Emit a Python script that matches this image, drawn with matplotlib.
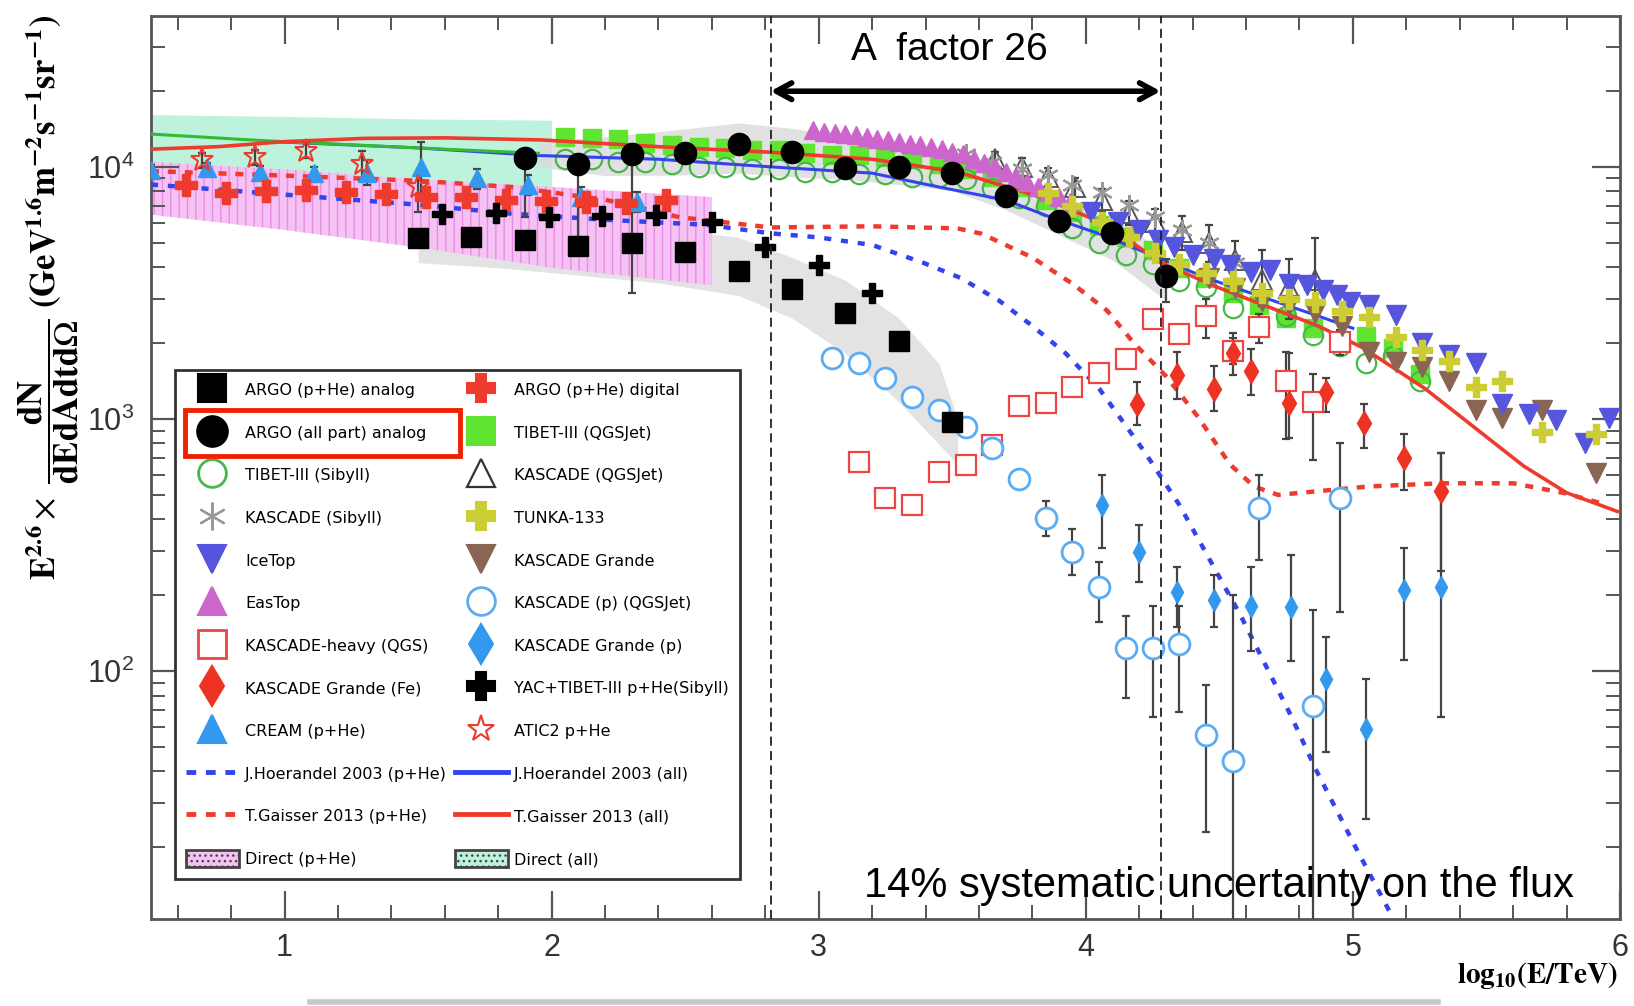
import matplotlib
matplotlib.use('Agg')
import matplotlib.pyplot as plt
from matplotlib.lines import Line2D
from matplotlib.patches import Patch, Rectangle
from matplotlib.ticker import MultipleLocator, LogLocator

plt.rcParams['font.family'] = ['Liberation Sans', 'DejaVu Sans']
plt.rcParams['mathtext.fontset'] = 'custom'
plt.rcParams['mathtext.rm'] = 'Liberation Sans'
plt.rcParams['mathtext.it'] = 'Liberation Sans:italic'
plt.rcParams['mathtext.bf'] = 'Liberation Sans:bold'
plt.rcParams['hatch.linewidth'] = 1.0

# ---- data (x = log10(E/TeV), y = E^2.6 dN/dE) ----
argo_phe_x = [1.50, 1.70, 1.90, 2.10, 2.30, 2.50, 2.70, 2.90, 3.10, 3.30, 3.50]
argo_phe_y = [5240, 5280, 5140, 4850, 4990, 4580, 3860, 3290, 2640, 2040, 970]

argo_all_x = [1.90, 2.10, 2.30, 2.50, 2.70, 2.90, 3.10, 3.30, 3.50, 3.70, 3.90, 4.10, 4.30]
argo_all_y = [10800, 10300, 11200, 11400, 12300, 11500, 9900, 10000, 9440, 7650, 6100, 5450, 3680]
argo_all_lo = [6310, 5250, 3160, 10900, 11800, 11000, 9500, 9600, 9050, 7300, 5800, 5150, 2900]
argo_all_hi = [11500, 10800, 11800, 11900, 12800, 12000, 10300, 10400, 9850, 8000, 6400, 5750, 4300]

argo_dig_x = [0.63, 0.78, 0.93, 1.08, 1.23, 1.38, 1.53, 1.68, 1.83, 1.98, 2.13, 2.28, 2.43]
argo_dig_y = [8470, 7850, 8020, 8130, 7940, 7800, 7600, 7570, 7380, 7330, 7260, 7190, 7380]

yac_x = [1.59, 1.79, 1.99, 2.19, 2.39, 2.60, 2.80, 3.00, 3.20]
yac_y = [6530, 6580, 6310, 6380, 6440, 6050, 4820, 4070, 3150]

cream_x = [0.50, 0.71, 0.91, 1.11, 1.31, 1.51, 1.72, 1.91, 2.11, 2.32]
cream_y = [9700, 9860, 9550, 9420, 9420, 9950, 9000, 8470, 7600, 7260]
cream_lo = [9200, 9350, 9050, 8900, 8500, 7900, 8200, 7700, 6900, 6600]
cream_hi = [10200, 10400, 10050, 9950, 10600, 12600, 9800, 9250, 8300, 7950]

atic_x = [0.69, 0.89, 1.08, 1.29, 1.50]
atic_y = [10600, 10900, 11600, 10300, 8340]
atic_lo = [9900, 10200, 10800, 8900, 6600]
atic_hi = [11400, 11700, 12500, 11600, 9300]

tibet_q_x = [2.05, 2.15, 2.25, 2.35, 2.45, 2.55, 2.65, 2.75, 2.85, 2.95, 3.05,
             3.15, 3.25, 3.35, 3.45, 3.55, 3.65, 3.75, 3.85, 3.95, 4.05, 4.15,
             4.25, 4.35, 4.45, 4.55, 4.65, 4.75, 4.85, 4.95, 5.05, 5.15, 5.25]
tibet_q_y = [13120, 13000, 12880, 12450, 12190, 11990, 11860, 11640, 11640, 11350, 11120,
             11120, 10910, 10720, 10230, 9770, 9120, 8320, 7410, 6610, 5890, 5250,
             4680, 3980, 3630, 3160, 2820, 2510, 2290, 2040, 2140, 1910, 1510]

tibet_s_x = tibet_q_x
tibet_s_y = [10720, 10720, 10470, 10470, 10230, 10000, 10000, 9770, 9770, 9550, 9550,
             9330, 9330, 9120, 9120, 8910, 8260, 7520, 6970, 5700, 5010, 4470,
             4130, 3510, 3350, 2750, 2340, 2570, 2160, 1950, 1660, 1780, 1410]

eastop_x = [2.98, 3.02, 3.06, 3.10, 3.14, 3.18, 3.22, 3.26, 3.30, 3.34, 3.38, 3.42, 3.46,
            3.50, 3.54, 3.58, 3.62, 3.66, 3.70, 3.74, 3.78, 3.82, 3.86, 3.90, 3.94]
eastop_y = [13960, 13800, 13650, 13490, 13340, 13180, 12880, 12740, 12590, 12300, 12160, 12020, 11750,
            11480, 11220, 10720, 10350, 10000, 9550, 9120, 8710, 8320, 7940, 7590, 7240]

kas_sib_x = [3.55, 3.65, 3.76, 3.86, 3.95, 4.06, 4.16, 4.26, 4.36, 4.46, 4.56]
kas_sib_y = [11220, 10470, 9770, 9270, 8510, 7940, 7080, 6310, 5600, 5010, 4170]

kas_qgs_x = [3.66, 3.76, 3.86, 3.96, 4.06, 4.16, 4.26, 4.36, 4.46, 4.56, 4.66, 4.76, 4.86]
kas_qgs_y = [10720, 10000, 9120, 8320, 7410, 6580, 6030, 5500, 5010, 4270, 3550, 3310, 3550]
kas_qgs_lo = [9900, 9200, 8400, 7600, 6700, 5900, 5300, 4700, 4200, 3500, 2800, 2500, 2700]
kas_qgs_hi = [11500, 10800, 9900, 9000, 8200, 7300, 6800, 6400, 5900, 5100, 4700, 4300, 5200]

tunka_x = [3.86, 3.95, 4.06, 4.16, 4.26, 4.35, 4.45, 4.55, 4.66, 4.76,
           4.86, 4.96, 5.06, 5.16, 5.26, 5.36, 5.46, 5.56, 5.71, 5.91]
tunka_y = [7890, 6970, 6030, 5250, 4570, 4130, 3780, 3510, 3160, 2990,
           2920, 2670, 2540, 2120, 1870, 1700, 1340, 1420, 890, 870]

icetop_x = [4.02, 4.12, 4.20, 4.27, 4.33, 4.40, 4.48, 4.54, 4.62, 4.69, 4.76, 4.83, 4.89,
            4.94, 4.99, 5.06, 5.16, 5.26, 5.36, 5.46, 5.56, 5.66, 5.76, 5.87, 5.96]
icetop_y = [6610, 6030, 5620, 5130, 4790, 4470, 4330, 4070, 3830, 3890, 3440, 3390, 3240,
            3090, 2900, 2820, 2590, 2000, 1790, 1660, 1150, 1050, 990, 800, 1010]

kg_x = [4.46, 4.56, 4.66, 4.76, 4.86, 4.96, 5.06, 5.16, 5.26, 5.36, 5.46, 5.56, 5.71, 5.91]
kg_y = [3630, 3310, 2950, 2820, 2630, 2330, 1850, 1690, 1610, 1410, 1090, 1010, 1090, 610]

kh_x = [3.15, 3.25, 3.35, 3.45, 3.55, 3.65, 3.75, 3.85, 3.95, 4.05,
        4.15, 4.25, 4.35, 4.45, 4.55, 4.65, 4.75, 4.85, 4.95]
kh_y = [678, 485, 458, 615, 658, 789, 1122, 1153, 1343, 1521,
        1722, 2495, 2183, 2565, 1858, 2312, 1409, 1164, 2023]
kh_lo = [640, 460, 435, 585, 625, 750, 1065, 1095, 1275, 1445,
         1635, 2370, 2070, 2100, 1650, 2000, 830, 690, 1800]
kh_hi = [715, 510, 480, 645, 690, 830, 1180, 1210, 1410, 1600,
         1810, 2620, 2290, 3000, 2100, 2600, 1840, 1510, 2250]

kgfe_x = [4.19, 4.34, 4.48, 4.55, 4.62, 4.76, 4.90, 5.04, 5.19, 5.33]
kgfe_y = [1150, 1490, 1320, 1820, 1550, 1160, 1280, 960, 700, 520]
kgfe_lo = [950, 1200, 1080, 1500, 1250, 840, 1070, 770, 525, 250]
kgfe_hi = [1400, 1850, 1620, 2200, 1900, 1820, 1460, 1150, 870, 730]

kp_x = [3.05, 3.15, 3.25, 3.35, 3.45, 3.55, 3.65, 3.75, 3.85, 3.95,
        4.05, 4.15, 4.25, 4.35, 4.45, 4.55, 4.65, 4.85, 4.95]
kp_y = [1750, 1670, 1450, 1220, 1090, 930, 770, 580, 405, 296,
        216, 123, 123, 128, 56, 44, 442, 73, 485]
kp_lo = [1650, 1570, 1360, 1140, 1020, 870, 720, 540, 345, 240,
         156, 78, 66, 69, 23, 10, 277, 10, 172]
kp_hi = [1850, 1770, 1540, 1300, 1160, 990, 820, 620, 475, 365,
         272, 166, 182, 182, 88, 200, 598, 175, 803]

kgp_x = [4.06, 4.20, 4.34, 4.48, 4.62, 4.77, 4.90, 5.05, 5.19, 5.33]
kgp_y = [454, 296, 206, 191, 182, 180, 93, 59, 210, 216]
kgp_lo = [308, 226, 150, 150, 120, 110, 48, 26, 111, 66]
kgp_hi = [600, 380, 260, 240, 260, 290, 137, 93, 308, 731]

# model curves
hoer_all_x = [0.95, 1.5, 1.95, 2.4, 2.82, 3.2, 3.45, 3.7, 3.87, 4.05, 4.27, 4.45, 4.70, 4.88, 5.0]
hoer_all_y = [12600, 11890, 11090, 10720, 10000, 9440, 8320, 7380, 6310, 5430, 4370, 3630, 2950, 2540, 2290]
gais_all_x = [0.5, 0.75, 1.0, 1.3, 1.6, 1.96, 2.4, 2.82, 3.2, 3.52, 3.83, 4.08, 4.28, 4.5,
              4.72, 4.87, 5.04, 5.27, 5.47, 5.64, 5.8, 5.99]
gais_all_y = [11750, 12020, 12590, 12970, 13030, 12790, 12020, 11430, 10720, 9550, 7590, 5890, 4170, 3310,
              2690, 2340, 1910, 1320, 900, 650, 510, 430]
hoer_phe_x = [0.5, 1.0, 1.5, 1.85, 2.2, 2.58, 2.82, 3.0, 3.2, 3.39, 3.53, 3.675, 3.8, 3.925, 4.05,
              4.22, 4.35, 4.58, 4.77, 4.86, 5.0, 5.14]
hoer_phe_y = [8510, 7760, 7080, 6520, 6170, 5890, 5450, 5250, 4900, 4170, 3630, 2950, 2340, 1820, 1320,
              741, 457, 166, 66, 41, 21, 11]
gais_phe_x = [0.5, 1.0, 1.5, 1.85, 2.2, 2.48, 2.82, 3.2, 3.52, 3.61, 3.80, 3.95, 4.08, 4.18, 4.30,
              4.42, 4.54, 4.63, 4.72, 5.06, 5.33, 5.6, 5.79, 5.95]
gais_phe_y = [9620, 9230, 8810, 8320, 7410, 6310, 5750, 5810, 5700, 5430, 4370, 3440, 2690, 2000, 1480,
              1020, 660, 540, 500, 540, 556, 556, 509, 457]
direct_all_line_x = [0.5, 0.9, 1.3, 1.6, 1.95]
direct_all_line_y = [13490, 12740, 12160, 11750, 11320]

# bands
direct_phe_x = [0.5, 1.0, 1.5, 2.0, 2.6]
direct_phe_hi = [10470, 9770, 8910, 8320, 7590]
direct_phe_lo = [6460, 5620, 4790, 3980, 3390]
direct_all_x = [0.5, 1.0, 1.5, 2.0]
direct_all_hi = [16110, 15850, 15490, 15310]
direct_all_lo = [9800, 9550, 8910, 8320]
band_phe_x = [1.5, 1.8, 2.1, 2.4, 2.7, 2.9, 3.1, 3.3, 3.45, 3.52]
band_phe_hi = [6310, 6170, 6030, 5750, 5250, 4370, 3550, 2510, 1660, 1000]
band_phe_lo = [4170, 3980, 3720, 3470, 3090, 2510, 1820, 1170, 794, 661]
band_all_x = [1.95, 2.2, 2.45, 2.7, 2.9, 3.1, 3.3, 3.5, 3.7, 3.9, 4.1, 4.3]
band_all_hi = [12590, 13180, 13960, 14930, 14220, 13180, 12300, 10960, 9120, 7240, 6310, 4570]
band_all_lo = [10000, 9230, 9270, 9440, 9120, 8910, 8510, 8040, 6760, 5370, 4270, 2950]

factor_lines = [2.82, 4.28]
x_ticks = [1, 2, 3, 4, 5, 6]

# colours
C_RED = '#ee3b2e'
C_BLUE_L = '#3344ee'
C_GREEN = '#5fe52f'

fig = plt.figure(figsize=(16.34, 10.06), dpi=100)
ax = fig.add_axes([0.0924, 0.0865, 0.899, 0.898])
ax.set_yscale('log')
ax.set_xlim(0.5, 6.0)
ax.set_ylim(10.4, 39800)


def ebar(x, y, lo, hi, color='#444444', z=3):
    el = [yy - l for yy, l in zip(y, lo)]
    eh = [h - yy for yy, h in zip(y, hi)]
    ax.errorbar(x, y, yerr=[el, eh], fmt='none', ecolor=color, elinewidth=1.6,
                capsize=3, capthick=1.6, zorder=z)


# bands
ax.fill_between(direct_all_x, direct_all_lo, direct_all_hi, color='#bdf3dc', lw=0, zorder=1)
ax.fill_between(direct_phe_x, direct_phe_lo, direct_phe_hi, facecolor='#f6c2f4',
                edgecolor='#e78ce6', hatch='||', lw=0, zorder=1.2)
ax.fill_between(band_phe_x, band_phe_lo, band_phe_hi, color='#dcdcdc', alpha=0.8, lw=0, zorder=1.1)
ax.fill_between(band_all_x, band_all_lo, band_all_hi, color='#dcdcdc', alpha=0.85, lw=0, zorder=1.1)

# TIBET points sit below the model lines
ax.plot(tibet_q_x, tibet_q_y, 's', color=C_GREEN, ms=13, mec=C_GREEN, zorder=2.5)
ax.plot(tibet_s_x, tibet_s_y, 'o', mfc='none', mec='#46b84a', mew=1.6, ms=14, zorder=2.6)

# model lines
ax.plot(hoer_all_x, hoer_all_y, color=C_BLUE_L, lw=2.2, zorder=3)
ax.plot(direct_all_line_x, direct_all_line_y, color='#33bb33', lw=2.2, zorder=3)
ax.plot(gais_all_x, gais_all_y, color=C_RED, lw=2.6, zorder=3.1)
ax.plot(hoer_phe_x, hoer_phe_y, color=C_BLUE_L, lw=3.2, ls=(0, (1.6, 2.2)), zorder=3)
ax.plot(gais_phe_x, gais_phe_y, color=C_RED, lw=3.2, ls=(0, (1.8, 2.0)), zorder=3)

# error bars
ebar(kp_x, kp_y, kp_lo, kp_hi)
ebar(kgp_x, kgp_y, kgp_lo, kgp_hi)
ebar(kgfe_x, kgfe_y, kgfe_lo, kgfe_hi)
ebar(kh_x, kh_y, kh_lo, kh_hi)
ebar(kas_qgs_x, kas_qgs_y, kas_qgs_lo, kas_qgs_hi)
ebar(cream_x, cream_y, cream_lo, cream_hi)
ebar(atic_x, atic_y, atic_lo, atic_hi)
ebar(argo_all_x, argo_all_y, argo_all_lo, argo_all_hi)

# data points
ax.plot(kas_qgs_x, kas_qgs_y, '^', mfc='none', mec='#555555', mew=1.4, ms=14, zorder=3.8)
ax.plot(kas_sib_x, kas_sib_y, marker=(6, 2, 0), ls='none', color='#999999', mew=1.6, ms=15, zorder=3.9)
ax.plot(eastop_x, eastop_y, '^', color='#cc66cc', ms=13, zorder=4)
ax.plot(icetop_x, icetop_y, 'v', color='#5555dd', ms=14, zorder=4.2)
ax.plot(kg_x, kg_y, 'v', color='#8b6553', ms=14, zorder=4.1)
ax.plot(tunka_x, tunka_y, 'P', color='#cccc33', ms=15, zorder=4.3)
ax.plot(kh_x, kh_y, 's', mfc='white', mec='#ee4444', mew=1.6, ms=15, zorder=4)
ax.plot(kp_x, kp_y, 'o', mfc='white', mec='#5aacf5', mew=2, ms=15, zorder=4)
ax.plot(kgfe_x, kgfe_y, 'd', color='#ee3322', ms=12, zorder=4.4)
ax.plot(kgp_x, kgp_y, 'd', color='#3399ee', ms=11, zorder=4.4)
ax.plot(cream_x, cream_y, '^', color='#3399ee', ms=13, zorder=4.4)
ax.plot(atic_x, atic_y, '*', mfc='none', mec=C_RED, mew=1.5, ms=17, zorder=4.4)
ax.plot(argo_dig_x, argo_dig_y, 'P', color=C_RED, ms=16, zorder=4.5)
ax.plot(yac_x, yac_y, 'P', color='black', ms=14, zorder=4.6)
ax.plot(argo_phe_x, argo_phe_y, 's', color='black', ms=15, zorder=4.7)
ax.plot(argo_all_x, argo_all_y, 'o', color='black', ms=16, zorder=4.8)

# factor 26 lines and arrow
for xv in factor_lines:
    ax.axvline(xv, color='#222222', lw=1.3, ls=(0, (5, 3)), zorder=6)
ax.annotate('', xy=(factor_lines[1], 19950), xytext=(factor_lines[0], 19950),
            arrowprops=dict(arrowstyle='<->,head_length=1.1,head_width=0.6',
                            lw=4, color='black', shrinkA=0, shrinkB=0), zorder=7)
ax.text(3.49, 29000, 'A  factor 26', ha='center', va='center', fontsize=28,
        family=['Liberation Sans Narrow', 'Liberation Sans'], zorder=7)
ax.text(4.50, 14.1, '14% systematic uncertainty on the flux', ha='center', va='center',
        fontsize=30, family=['Liberation Sans Narrow', 'Liberation Sans'], zorder=7)

# axes styling
for s in ax.spines.values():
    s.set_color('#555555')
    s.set_linewidth(2)
ax.set_xticks(x_ticks)
ax.xaxis.set_minor_locator(MultipleLocator(0.2))
ax.yaxis.set_major_locator(LogLocator(base=10))
ax.yaxis.set_minor_locator(LogLocator(base=10, subs=range(2, 10)))
ax.tick_params(which='both', direction='in', top=True, right=True, colors='#555555')
ax.tick_params(which='major', length=20, width=1.6, labelsize=22, labelcolor='#333333')
ax.tick_params(which='minor', length=10, width=1.4)
ax.tick_params(axis='x', pad=10)
ax.tick_params(axis='y', pad=12)

# axis titles
fig.text(0.030, 0.705,
         r'$\mathbf{E^{2.6}}\times\ \dfrac{\mathbf{dN}}{\mathbf{dEdAdtd}\Omega}\ '
         r'\mathbf{(GeV^{1.6}m^{-2}s^{-1}sr^{-1})}$',
         rotation=90, ha='center', va='center', fontsize=25, math_fontfamily='stix')
fig.text(0.941, 0.030, r'$\mathbf{log_{10}(E/TeV)}$', ha='center', va='center',
         fontsize=21, math_fontfamily='stix')

# legend
def mk(marker, color, mfc=None, ms=14, mew=1.5):
    return Line2D([], [], ls='none', marker=marker, color=color,
                  mfc=color if mfc is None else mfc, mec=color, ms=ms, mew=mew)


handles = [
    mk('s', 'black', ms=20),
    mk('o', 'black', ms=22),
    mk('o', '#46b84a', mfc='none', ms=20, mew=2),
    mk((6, 2, 0), '#999999', ms=20, mew=1.6),
    mk('v', '#5555dd', ms=20),
    mk('^', '#cc66cc', ms=20),
    mk('s', '#ee4444', mfc='none', ms=20, mew=2),
    mk('d', '#ee3322', ms=20),
    mk('^', '#3399ee', ms=20),
    Line2D([], [], color=C_BLUE_L, lw=3.5, ls=(0, (2, 2))),
    Line2D([], [], color=C_RED, lw=3.5, ls=(0, (2, 2))),
    Patch(facecolor='#f6c2f4', edgecolor='#444444', hatch='...', lw=2),
    mk('P', C_RED, ms=20),
    mk('s', C_GREEN, ms=20),
    mk('^', '#333333', mfc='none', ms=20, mew=1.6),
    mk('P', '#cccc33', ms=20),
    mk('v', '#8b6553', ms=20),
    mk('o', '#5aacf5', mfc='none', ms=20, mew=2),
    mk('d', '#3399ee', ms=20),
    mk('P', 'black', ms=20),
    mk('*', C_RED, mfc='none', ms=20, mew=1.5),
    Line2D([], [], color=C_BLUE_L, lw=3.5),
    Line2D([], [], color=C_RED, lw=3.5),
    Patch(facecolor='#bdf3dc', edgecolor='#444444', hatch='...', lw=2),
]
labels = [
    'ARGO (p+He) analog', 'ARGO (all part) analog', 'TIBET-III (Sibyll)', 'KASCADE (Sibyll)',
    'IceTop', 'EasTop', 'KASCADE-heavy (QGS)', 'KASCADE Grande (Fe)', 'CREAM (p+He)',
    'J.Hoerandel 2003 (p+He)', 'T.Gaisser 2013 (p+He)', 'Direct (p+He)',
    'ARGO (p+He) digital', 'TIBET-III (QGSJet)', 'KASCADE (QGSJet)', 'TUNKA-133',
    'KASCADE Grande', 'KASCADE (p) (QGSJet)', 'KASCADE Grande (p)', 'YAC+TIBET-III p+He(Sibyll)',
    'ATIC2 p+He', 'J.Hoerandel 2003 (all)', 'T.Gaisser 2013 (all)', 'Direct (all)',
]
leg = ax.legend(handles, labels, ncol=2, loc='upper left', bbox_to_anchor=(0.0163, 0.608),
                prop={'family': 'DejaVu Sans', 'size': 11.5}, frameon=True, fancybox=False,
                edgecolor='#333333', framealpha=1, borderpad=0.7, labelspacing=1.58,
                handlelength=3.3, handleheight=1.3, handletextpad=0.4, columnspacing=0.5,
                borderaxespad=0)
leg.get_frame().set_linewidth(2)
leg.set_zorder(20)

# red highlight box round the all-particle entry
fig.add_artist(Rectangle((0.1132, 0.5467), 0.1683, 0.0457, transform=fig.transFigure,
                         fill=False, edgecolor='#ee2200', lw=3.5, zorder=30))
# thin grey rule at the very bottom
fig.add_artist(Line2D([0.19, 0.88], [0.004, 0.004], transform=fig.transFigure,
                      color='#c8c8c8', lw=4))

fig.savefig('out.png', dpi=100)
